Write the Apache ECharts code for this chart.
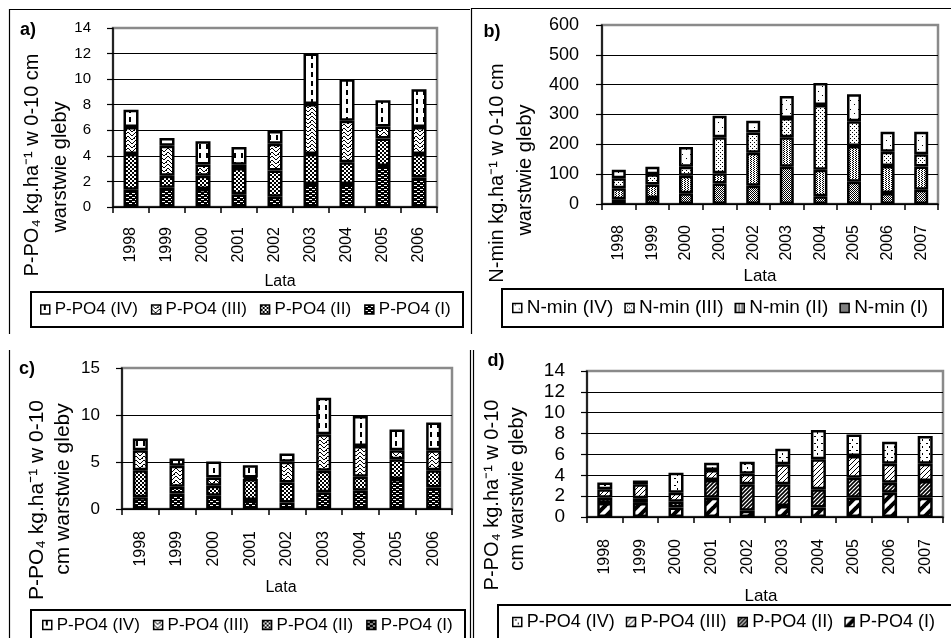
<!DOCTYPE html>
<html><head><meta charset="utf-8">
<script src="https://cdn.jsdelivr.net/npm/echarts@6/dist/echarts.min.js"></script>
<style>
html,body{margin:0;padding:0;background:#fff;}
.p{position:absolute;left:0;top:0;width:951px;height:638px;}
</style></head>
<body>
<div id="ca" class="p"></div><div id="cb" class="p"></div><div id="cc" class="p"></div><div id="cd" class="p"></div>
<script>
// ---------- DATA ----------
const yearsA = ['1998','1999','2000','2001','2002','2003','2004','2005','2006'];
const yearsB = ['1998','1999','2000','2001','2002','2003','2004','2005','2006','2007'];
const yearsC = ['1998','1999','2000','2001','2002','2003','2004','2005','2006'];
const yearsD = ['1998','1999','2000','2001','2002','2003','2004','2005','2006','2007'];

const aI   = [1.35, 1.5, 1.4, 1.0, 0.8, 1.8, 1.8, 3.2, 2.3];
const aII  = [2.8, 0.95, 1.05, 2.05, 2.05, 2.35, 1.7, 2.15, 1.85];
const aIII = [2.1, 2.35, 0.88, 0.25, 2.1, 3.9, 3.25, 0.95, 2.1];
const aIV  = [1.35, 0.6, 1.82, 1.4, 1.0, 3.95, 3.25, 2.05, 2.95];

const bI   = [16, 20, 36, 69, 61, 125, 26, 75, 37, 48];
const bII  = [37, 45, 59, 34, 111, 99, 89, 119, 90, 78];
const bIII = [33, 35, 30, 121, 68, 64, 217, 83, 48, 41];
const bIV  = [29, 25, 66, 72, 39, 74, 74, 91, 67, 75];

const cI   = [1.25, 1.65, 1.4, 0.95, 0.7, 1.77, 1.94, 3.18, 2.3];
const cII  = [2.88, 0.72, 1.07, 2.25, 2.13, 2.29, 1.49, 2.12, 1.83];
const cIII = [2.12, 2.23, 0.89, 0.15, 2.19, 3.89, 3.28, 0.95, 2.12];
const cIV  = [1.24, 0.77, 1.69, 1.31, 0.88, 3.89, 3.19, 2.2, 2.94];

const dI   = [1.35, 1.35, 0.9, 1.85, 0.6, 1.05, 0.9, 1.85, 2.33, 1.85];
const dII  = [0.5, 0.45, 0.57, 1.7, 2.53, 2.08, 1.75, 1.92, 0.96, 1.6];
const dIII = [0.8, 1.33, 0.86, 0.95, 1.02, 1.92, 2.88, 2.08, 1.82, 1.66];
const dIV  = [0.65, 0.37, 1.92, 0.7, 1.15, 1.5, 2.81, 2.07, 2.11, 2.65];

const namesA = ['P-PO4 (IV)', 'P-PO4 (III)', 'P-PO4 (II)', 'P-PO4 (I)'];
const namesB = ['N-min (IV)', 'N-min (III)', 'N-min (II)', 'N-min (I)'];
const namesC = ['P-PO4 (IV)', 'P-PO4 (III)', 'P-PO4 (II)', 'P-PO4 (I)'];
const namesD = ['P-PO4 (IV)', 'P-PO4 (III)', 'P-PO4 (II)', 'P-PO4 (I)'];

const yAxisA = {max: 14, interval: 2};
const yAxisB = {max: 600, interval: 100};
const yAxisC = {max: 15, interval: 5};
const yAxisD = {max: 14, interval: 2};

const yNameA = ['P-PO\u2084 kg.ha\u207B\u00B9 w 0-10 cm', 'warstwie gleby'];
const yNameB = ['N-min kg.ha\u207B\u00B9 w 0-10 cm', 'warstwie gleby'];
const yNameC = ['P-PO\u2084 kg.ha\u207B\u00B9 w 0-10', 'cm warstwie gleby'];
const yNameD = ['P-PO\u2084 kg.ha\u207B\u00B9 w 0-10', 'cm warstwie gleby'];
const xName = 'Lata';

// ---------- PATTERNS ----------
const FONT = '"Liberation Sans", Arial, sans-serif';
function pat(w, h, fn) {
  const c = document.createElement('canvas');
  c.width = w; c.height = h;
  const g = c.getContext('2d');
  g.fillStyle = '#fff'; g.fillRect(0, 0, w, h);
  g.fillStyle = '#000'; g.strokeStyle = '#000';
  fn(g, w, h);
  return {image: c, repeat: 'repeat'};
}
function diag(s, lw) {
  return pat(s, s, (g) => {
    g.lineWidth = lw;
    g.beginPath();
    for (const k of [-s, 0, s]) { g.moveTo(k - 1, s + 1); g.lineTo(k + s + 1, -1); }
    g.stroke();
  });
}
const patA = [
  pat(6, 4, (g) => { g.fillRect(0, 0, 6, 4); g.fillStyle = '#fff'; g.fillRect(0, 1, 3, 1); g.fillRect(3, 3, 3, 1); }),
  pat(4, 4, (g) => { g.fillRect(0, 0, 2, 2); g.fillRect(2, 2, 2, 2); }),
  pat(8, 8, (g) => { const z = [0,1,2,3,3,2,1,0]; for (let x = 0; x < 8; x++) { g.fillRect(x, z[x], 1, 1); g.fillRect(x, z[x] + 4, 1, 1); } g.fillRect(2,6,1,1); g.fillRect(6,2,1,1); }),
  pat(7, 9, (g) => { g.fillRect(3, 0, 2, 5); })
];
const patB = [
  pat(2, 2, (g) => { g.fillRect(0, 0, 1, 1); g.fillRect(1, 1, 1, 1); }),
  pat(3, 2, (g) => { g.fillRect(0, 0, 1, 1); g.fillRect(1, 1, 1, 1); }),
  pat(4, 4, (g) => { g.fillRect(0, 0, 1, 1); g.fillRect(2, 2, 1, 1); }),
  pat(8, 9, (g) => { g.fillRect(2, 1, 1, 1); g.fillRect(6, 5, 1, 1); })
];
const patD = [
  diag(11, 4),
  diag(4, 1.6),
  diag(5, 1),
  pat(7, 7, (g) => { g.fillRect(2, 2, 2, 1); g.fillRect(5, 5, 1, 2); })
];

// ---------- PANELS ----------
function panel(id, cfg) {
  const chart = echarts.init(document.getElementById(id), null, {renderer: 'canvas'});
  const serData = [cfg.s[0], cfg.s[1], cfg.s[2], cfg.s[3]]; // I, II, III, IV
  const serNames = [cfg.names[3], cfg.names[2], cfg.names[1], cfg.names[0]];
  const series = serData.map((d, i) => ({
    type: 'bar', name: serNames[i], stack: 'tot', data: d, barWidth: cfg.barW,
    itemStyle: {color: cfg.pats[i], borderColor: '#000', borderWidth: 2.5},
    emphasis: {disabled: true}, animation: false
  }));
  const txt = (t, x, y, size, rot, bold) => ({
    type: 'text', x: x, y: y, rotation: rot || 0, silent: true,
    style: {text: t, fill: '#000', fontSize: size, fontFamily: FONT, fontWeight: bold ? 'bold' : 'normal',
            align: 'center', verticalAlign: 'middle', textAlign: 'center', textVerticalAlign: 'middle'}
  });
  const graphic = [
    txt(cfg.letter[0], cfg.letter[1], cfg.letter[2], 18, 0, true),
    txt(cfg.yName[0], cfg.yPos[0], cfg.yPos[1], cfg.yFont, Math.PI / 2),
    txt(cfg.yName[1], cfg.yPos[2], cfg.yPos[3], cfg.yFont, Math.PI / 2),
    txt(xName, cfg.xPos[0], cfg.xPos[1], cfg.xFont, 0),
    {type: 'rect', silent: true, shape: {x: cfg.box[0], y: cfg.box[1], width: cfg.box[2], height: cfg.box[3]},
     style: {fill: 'none', stroke: '#000', lineWidth: 2}}
  ];
  (cfg.lines || []).forEach(l => graphic.push({type: 'line', silent: true,
    shape: {x1: l[0], y1: l[1], x2: l[2], y2: l[3]}, style: {stroke: '#000', lineWidth: 1.2}}));
  chart.setOption({
    animation: false,
    grid: {left: cfg.grid[0], top: cfg.grid[1], width: cfg.grid[2], height: cfg.grid[3],
           show: true, borderColor: '#8a8a8a', borderWidth: 2.5, containLabel: false, outerBoundsMode: 'none'},
    xAxis: {type: 'category', data: cfg.years,
      axisLine: {lineStyle: {color: '#000', width: 1.5}},
      axisTick: {show: true, length: 6, lineStyle: {color: '#000', width: 1.5}},
      axisLabel: {rotate: 90, interval: 0, margin: cfg.xMargin, fontSize: cfg.catFont, color: '#000', fontFamily: FONT},
      splitLine: {show: false}},
    yAxis: {type: 'value', min: 0, max: cfg.y.max, interval: cfg.y.interval,
      axisLine: {show: true, lineStyle: {color: '#000', width: 1.5}},
      axisTick: {show: true, length: 6, lineStyle: {color: '#000', width: 1.2}},
      axisLabel: {margin: cfg.yMargin, fontSize: cfg.valFont, color: '#000', fontFamily: FONT},
      splitLine: {show: true, showMaxLine: false, lineStyle: {color: '#000', width: 1}}},
    legend: {left: cfg.leg[0], top: cfg.leg[1] - 10, orient: 'horizontal', padding: 0,
      itemWidth: 9, itemHeight: 9, itemGap: cfg.leg[2], icon: 'rect', selectedMode: false,
      itemStyle: {borderColor: '#000', borderWidth: 1.5},
      textStyle: {fontSize: cfg.leg[3], lineHeight: 20, color: '#000', fontFamily: FONT},
      data: cfg.names},
    graphic: graphic,
    series: series
  });
}

panel('ca', {
  years: yearsA, s: [aI, aII, aIII, aIV], names: namesA, pats: patA, y: yAxisA, yName: yNameA,
  grid: [113, 28, 324, 179], barW: 15, xMargin: 20, yMargin: 22, catFont: 16, valFont: 15,
  letter: ['a)', 28, 30], yPos: [32, 165, 60, 167], yFont: 20, xPos: [280, 282], xFont: 16,
  box: [31, 292, 432, 35], leg: [40, 309.5, 13, 17],
  lines: [[9, 9.5, 470, 9.5], [9.5, 9, 9.5, 334], [471, 8.5, 951, 8.5], [471.5, 8, 471.5, 334],
          [9.5, 350, 9.5, 638], [470.5, 350, 470.5, 638], [473.5, 350, 473.5, 638]]
});
panel('cb', {
  years: yearsB, s: [bI, bII, bIII, bIV], names: namesB, pats: patB, y: yAxisB, yName: yNameB,
  grid: [602, 25, 336, 179], barW: 14, xMargin: 21, yMargin: 23, catFont: 16, valFont: 18,
  letter: ['b)', 492, 32], yPos: [497, 173, 525, 170], yFont: 20, xPos: [760, 276], xFont: 17,
  box: [502, 289, 441, 38], leg: [512, 308, 11, 19]
});
panel('cc', {
  years: yearsC, s: [cI, cII, cIII, cIV], names: namesC, pats: patA, y: yAxisC, yName: yNameC,
  grid: [122, 368, 330, 141], barW: 15, xMargin: 22, yMargin: 22, catFont: 16, valFont: 17,
  letter: ['c)', 27, 369], yPos: [37, 500, 63, 489], yFont: 21, xPos: [281, 588], xFont: 16,
  box: [31, 610, 434, 40], leg: [42, 625, 13, 17]
});
panel('cd', {
  years: yearsD, s: [dI, dII, dIII, dIV], names: namesD, pats: patD, y: yAxisD, yName: yNameD,
  grid: [587, 371, 356, 146], barW: 15, xMargin: 22, yMargin: 22, catFont: 16, valFont: 19,
  letter: ['d)', 496, 361], yPos: [492, 495, 517, 489], yFont: 20, xPos: [761, 596], xFont: 17,
  box: [498, 605, 470, 40], leg: [512, 622, 11, 18]
});
</script>
</body></html>
